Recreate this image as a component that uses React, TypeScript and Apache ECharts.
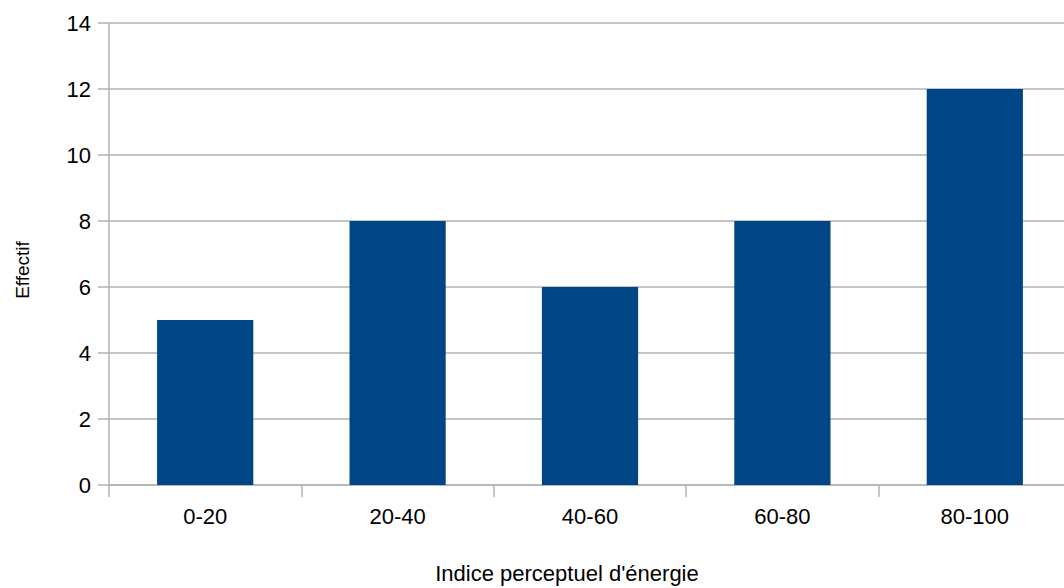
import React, { useEffect, useRef } from "react";
import * as echarts from "echarts";

const categories = ["0-20", "20-40", "40-60", "60-80", "80-100"];
const effectif = [5, 8, 6, 8, 12];
const yTicks = { min: 0, max: 14, interval: 2 };
const xAxisTitle = "Indice perceptuel d'énergie";
const yAxisTitle = "Effectif";

const FONT = "'Liberation Sans', Arial, sans-serif";

export default function App() {
  const ref = useRef<HTMLDivElement>(null);
  useEffect(() => {
    if (!ref.current) return;
    const chart = echarts.init(ref.current, null, { renderer: "svg" });
    chart.setOption({
      animation: false,
      backgroundColor: "#ffffff",
      grid: { left: 109, right: 1, top: 23, bottom: 103, containLabel: false },
      xAxis: {
        type: "category",
        data: categories,
        boundaryGap: true,
        axisLine: { show: true, lineStyle: { color: "#b3b3b3", width: 1.5 } },
        axisTick: { show: true, length: 12, inside: false, alignWithLabel: false, lineStyle: { color: "#b3b3b3", width: 1.5 } },
        axisLabel: { margin: 20, color: "#000", fontSize: 22, fontFamily: FONT },
        splitLine: { show: false },
      },
      yAxis: {
        type: "value",
        min: yTicks.min,
        max: yTicks.max,
        interval: yTicks.interval,
        axisLine: { show: true, lineStyle: { color: "#b3b3b3", width: 1.5 } },
        axisTick: { show: true, length: 11, lineStyle: { color: "#b3b3b3", width: 1.5 } },
        axisLabel: { margin: 18, color: "#000", fontSize: 22, fontFamily: FONT },
        splitLine: { show: true, lineStyle: { color: "#b3b3b3", width: 1.5 } },
      },
      series: [
        {
          type: "bar",
          data: effectif,
          barCategoryGap: "50%",
          itemStyle: { color: "#004586" },
        },
      ],
      graphic: [
        {
          type: "text",
          x: 567,
          y: 573,
          style: {
            text: xAxisTitle,
            fontSize: 22,
            fontFamily: FONT,
            fill: "#000",
            align: "center",
            verticalAlign: "middle",
          },
        },
        {
          type: "text",
          x: 22,
          y: 270,
          rotation: Math.PI / 2,
          style: {
            text: yAxisTitle,
            fontSize: 19,
            fontFamily: FONT,
            fill: "#000",
            align: "center",
            verticalAlign: "middle",
          },
        },
      ],
    });
    return () => chart.dispose();
  }, []);
  return (
    <div style={{ position: "absolute", left: 0, top: 0, width: 1064, height: 588, overflow: "hidden", background: "#fff" }}>
      <div ref={ref} style={{ width: 1072, height: 588 }} />
    </div>
  );
}
